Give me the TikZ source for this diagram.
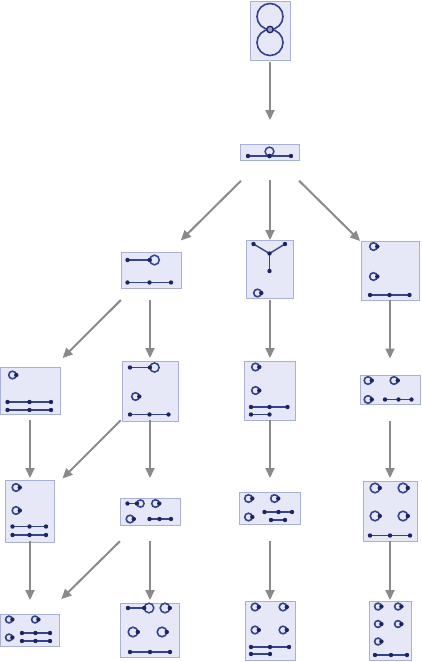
\documentclass[tikz,border=0pt]{standalone}
\usetikzlibrary{arrows.meta}
\definecolor{edgec}{HTML}{34448A}
\definecolor{vtxc}{HTML}{1C2461}
\definecolor{boxf}{HTML}{E6E8F7}
\definecolor{boxl}{HTML}{A9B0D6}
\definecolor{arrc}{HTML}{8A8A8A}
\tikzset{
  box/.style={draw=boxl, fill=boxf, line width=0.8pt, inner sep=0pt, rectangle},
  edg/.style={draw=edgec, line width=1.4pt},
  arr/.style={draw=arrc, line width=2pt, -{Triangle[length=10pt,width=9pt]}},
}
% vertex dot
\newcommand\vx[1]{\fill[vtxc] (#1) circle (2.2);}
% tadpole loop: [radius]{x}{y}
\newcommand\tad[3][3.8]{\draw[edg, line width=1.6pt] (#2,#3) circle (#1); \fill[vtxc] (#2+#1,#3) circle (2.2);}
% three-vertex line: {y}{x1}{x2}{x3}
\newcommand\segc[4]{\draw[edg] (#2,#1) -- (#4,#1); \vx{#2,#1}\vx{#3,#1}\vx{#4,#1}}
% two-vertex line: {y}{x1}{x2}
\newcommand\segb[3]{\draw[edg] (#2,#1) -- (#3,#1); \vx{#2,#1}\vx{#3,#1}}
% lollipop: {xdot}{xcircle}{y}{r}
\newcommand\lolli[4]{\draw[edg] (#1,#3) -- (#2-#4,#3); \draw[edg, line width=1.5pt] (#2,#3) circle (#4); \vx{#1,#3}\vx{#2-#4,#3}}
\begin{document}
\begin{tikzpicture}[x=1pt,y=-1pt]
\useasboundingbox (0,0) rectangle (422,662);
% ---------- boxes ----------
\node[box, minimum width=40, minimum height=59] (b1) at (270,30.5) {};
\node[box, minimum width=59, minimum height=16] (b2) at (270,152) {};
\node[box, minimum width=60, minimum height=36] (b3) at (151,270) {};
\node[box, minimum width=47, minimum height=58] (b4) at (270,269.5) {};
\node[box, minimum width=58, minimum height=59] (b5) at (390,270.5) {};
\node[box, minimum width=60, minimum height=47] (b6) at (30,390.5) {};
\node[box, minimum width=56, minimum height=60] (b7) at (150,391) {};
\node[box, minimum width=51, minimum height=59] (b8) at (270,390.5) {};
\node[box, minimum width=60, minimum height=29] (b9) at (390,389.5) {};
\node[box, minimum width=49, minimum height=62] (b10) at (30,511) {};
\node[box, minimum width=60, minimum height=27] (b11) at (150,511.5) {};
\node[box, minimum width=61, minimum height=32] (b12) at (270,508) {};
\node[box, minimum width=54, minimum height=60] (b13) at (390,511) {};
\node[box, minimum width=59, minimum height=32] (b14) at (30,630) {};
\node[box, minimum width=59, minimum height=54] (b15) at (150,630) {};
\node[box, minimum width=50, minimum height=59] (b16) at (270,630.5) {};
\node[box, minimum width=42, minimum height=59] (b17) at (390,630.5) {};
% ---------- contents ----------
% b1: figure eight
\draw[edg, line width=1.6pt] (270,16.5) circle (13);
\draw[edg, line width=1.6pt] (270,42.5) circle (13);
\filldraw[fill=edgec!45!boxf, draw=vtxc, line width=1.3pt] (270,29.5) circle (3.2);
% b2
\segc{156}{248}{269.5}{291}
\draw[edg, line width=1.5pt] (269.5,151.5) circle (4.4);
\vx{269.5,156}
% b3
\lolli{127.5}{154.5}{260}{4.8}
\segc{282.5}{127.5}{149.5}{171}
% b4
\draw[edg] (253.5,244) -- (269.5,253.5) -- (285,244);
\draw[edg] (269.5,253.5) -- (269.5,271);
\vx{253.5,244}\vx{285,244}\vx{269.5,253.5}\vx{269.5,271}
\tad{257.5}{293}
% b5
\tad{373.5}{246.5}
\tad{373.5}{276.5}
\segc{295}{370}{389.5}{409.5}
% b6
\tad{12.5}{375}
\segc{402}{7.5}{29.5}{51}
\segc{410}{7.5}{29.5}{51}
% b7
\lolli{130}{154.5}{367.5}{4.6}
\tad{135.5}{396.5}
\segc{414.5}{130}{149.5}{168.5}
% b8
\tad{255.5}{367}
\tad{255.5}{390.5}
\segc{407}{251}{269.5}{287.5}
\segb{414.5}{251}{269.5}
% b9
\tad{368}{380.5}
\tad{394}{380.5}
\tad{368}{399.5}
\segc{399.5}{385}{398.5}{411.5}
% b10
\tad{16}{487.5}
\tad{16}{510.5}
\segc{526.5}{12.5}{29.5}{46}
\segc{535}{12.5}{29.5}{46}
% b11
\lolli{127.5}{140.5}{503.5}{3.6}
\tad{155.5}{503.5}
\tad{130}{519}
\segc{519}{149.5}{159.5}{171}
% b12
\tad{248.5}{498.5}
\tad{274.5}{498.5}
\tad{248.5}{517}
\segc{512}{264.5}{278.5}{292}
\segb{520}{271}{285}
% b13
\tad[4.8]{375}{488}
\tad[4.8]{403}{488}
\tad[4.8]{375}{516}
\tad[4.8]{403}{516}
\segc{535.5}{370}{390}{410}
% b14
\tad[3.4]{9}{619.5}
\tad[3.4]{35}{619.5}
\tad[3.4]{9}{637.5}
\segc{633}{22}{35.5}{50}
\segc{641}{22}{35.5}{50}
% b15
\lolli{128}{149}{608}{4.8}
\tad[4.8]{165}{608}
\tad[4.8]{133}{632}
\tad[4.8]{162}{632}
\segc{652}{130}{150}{170}
% b16
\tad{255}{607}
\tad{283}{607}
\tad{255}{630}
\tad{283}{630}
\segc{647}{251}{270}{289}
\segb{654}{251}{270}
% b17
\tad[3.4]{378}{606.5}
\tad[3.4]{398}{606.5}
\tad[3.4]{378}{624}
\tad[3.4]{398}{624}
\tad[3.4]{378}{641.5}
\segc{655}{375}{391}{407}
% ---------- arrows ----------
\draw[arr, shorten <=31.5pt, shorten >=32pt] (b1.center) -- (b2.center);
\draw[arr, shorten <=41pt, shorten >=42pt] (b2.center) -- (b3.center);
\draw[arr, shorten <=28pt, shorten >=29.5pt] (b2.center) -- (b4.center);
\draw[arr, shorten <=41pt, shorten >=42pt] (b2.center) -- (b5.center);
\draw[arr, shorten <=42.5pt, shorten >=46pt] (b3.center) -- (b6.center);
\draw[arr, shorten <=30pt, shorten >=33pt] (b3.center -| b7.center) -- (b7.center);
\draw[arr, shorten <=30.5pt, shorten >=32.5pt] (b4.center) -- (b8.center);
\draw[arr, shorten <=29.5pt, shorten >=31pt] (b5.center) -- (b9.center);
\draw[arr, shorten <=29.5pt, shorten >=33pt] (b6.center) -- (b10.center);
\draw[arr, shorten <=41.5pt, shorten >=46pt] (b7.center) -- (b10.center);
\draw[arr, shorten <=29pt, shorten >=33.5pt] (b7.center) -- (b11.center);
\draw[arr, shorten <=29.5pt, shorten >=30pt] (b8.center) -- (b12.center);
\draw[arr, shorten <=31pt, shorten >=33pt] (b9.center) -- (b13.center);
\draw[arr, shorten <=30pt, shorten >=30pt] (b10.center) -- (b14.center);
\draw[arr, shorten <=42.4pt, shorten >=44pt] (b11.center) -- (b14.center);
\draw[arr, shorten <=29.5pt, shorten >=30pt] (b11.center) -- (b15.center);
\draw[arr, shorten <=33pt, shorten >=30.5pt] (b12.center) -- (b16.center);
\draw[arr, shorten <=30pt, shorten >=30.5pt] (b13.center) -- (b17.center);
\end{tikzpicture}
\end{document}
